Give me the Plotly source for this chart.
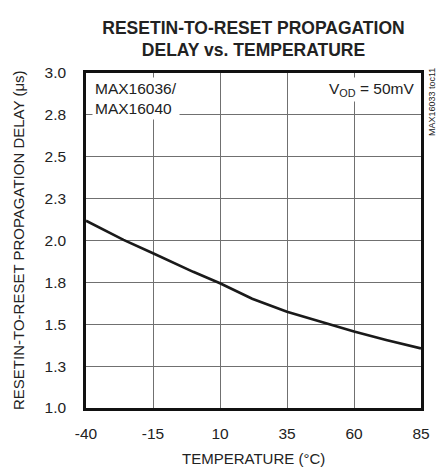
import plotly.graph_objects as go

temps = [-40, -26, -15, 0, 10, 22, 35, 47, 60, 72, 85]
delay = [2.118, 2.004, 1.924, 1.813, 1.745, 1.652, 1.575, 1.517, 1.456, 1.406, 1.356]

x_ticks = [-40, -15, 10, 35, 60, 85]
y_ticks = [1.0, 1.25, 1.5, 1.75, 2.0, 2.25, 2.5, 2.75, 3.0]
y_ticktext = ["1.0", "1.3", "1.5", "1.8", "2.0", "2.3", "2.5", "2.8", "3.0"]

FONT = "Liberation Sans, Arial, sans-serif"

W, H = 442, 470
L, R, T, B = 86, 421, 73, 408
pw, ph = R - L, B - T

def px(xp):
    return (xp - L) / pw

def py(yp):
    return (B - yp) / ph

fig = go.Figure()
fig.add_trace(go.Scatter(
    x=temps, y=delay, mode="lines",
    line=dict(color="#1a1a1a", width=2.6, shape="linear"),
    hoverinfo="skip", showlegend=False,
))

fig.update_layout(
    width=W, height=H,
    margin=dict(l=L, r=W - R, t=T, b=H - B),
    paper_bgcolor="white", plot_bgcolor="white",
    font=dict(family=FONT, color="#222", size=15),
    title=dict(
        text="<b>RESETIN-TO-RESET PROPAGATION<br>DELAY vs. TEMPERATURE</b>",
        x=(L + R) / 2 / W, xanchor="center",
        y=1 - 33.5 / H, yanchor="middle",
        font=dict(family=FONT, size=17.5, color="#222"),
    ),
    xaxis=dict(
        range=[-40, 85], tickvals=x_ticks, ticktext=[str(v) for v in x_ticks],
        showgrid=True, gridcolor="#707070", gridwidth=1,
        showline=True, linecolor="#111", linewidth=2.6, mirror=True,
        ticks="", ticklabelstandoff=10, zeroline=False,
        tickfont=dict(family=FONT, size=15.5, color="#222"),
    ),
    yaxis=dict(
        range=[1.0, 3.0], tickvals=y_ticks, ticktext=y_ticktext,
        showgrid=True, gridcolor="#707070", gridwidth=1,
        showline=True, linecolor="#111", linewidth=2.6, mirror=True,
        ticks="", ticklabelstandoff=14, zeroline=False,
        tickfont=dict(family=FONT, size=15.5, color="#222"),
    ),
    annotations=[
        dict(text="RESETIN-TO-RESET PROPAGATION DELAY (μs)", textangle=-90,
             xref="paper", yref="paper", x=px(18), y=py(240),
             xanchor="center", yanchor="middle", showarrow=False,
             font=dict(family=FONT, size=15, color="#222")),
        dict(text="TEMPERATURE (°C)",
             xref="paper", yref="paper", x=0.5, y=py(459),
             xanchor="center", yanchor="middle", showarrow=False,
             font=dict(family=FONT, size=15, color="#222")),
        dict(text="MAX16036/<br>MAX16040",
             xref="paper", yref="paper", x=px(92), y=py(77),
             xanchor="left", yanchor="top", align="left", showarrow=False,
             bgcolor="white", borderpad=2,
             font=dict(family=FONT, size=15.5, color="#222")),
        dict(text="V<sub>OD</sub> = 50mV",
             xref="paper", yref="paper", x=px(417), y=py(77),
             xanchor="right", yanchor="top", align="right", showarrow=False,
             bgcolor="white", borderpad=2,
             font=dict(family=FONT, size=15.5, color="#222")),
        dict(text="MAX16033 toc11", textangle=-90,
             xref="paper", yref="paper", x=px(432), y=py(66),
             xanchor="center", yanchor="top", showarrow=False,
             font=dict(family=FONT, size=9, color="#222")),
    ],
)

fig.write_html("out.html", config={"displayModeBar": False},
               post_script="document.body.style.margin='0';document.body.style.padding='0';")
